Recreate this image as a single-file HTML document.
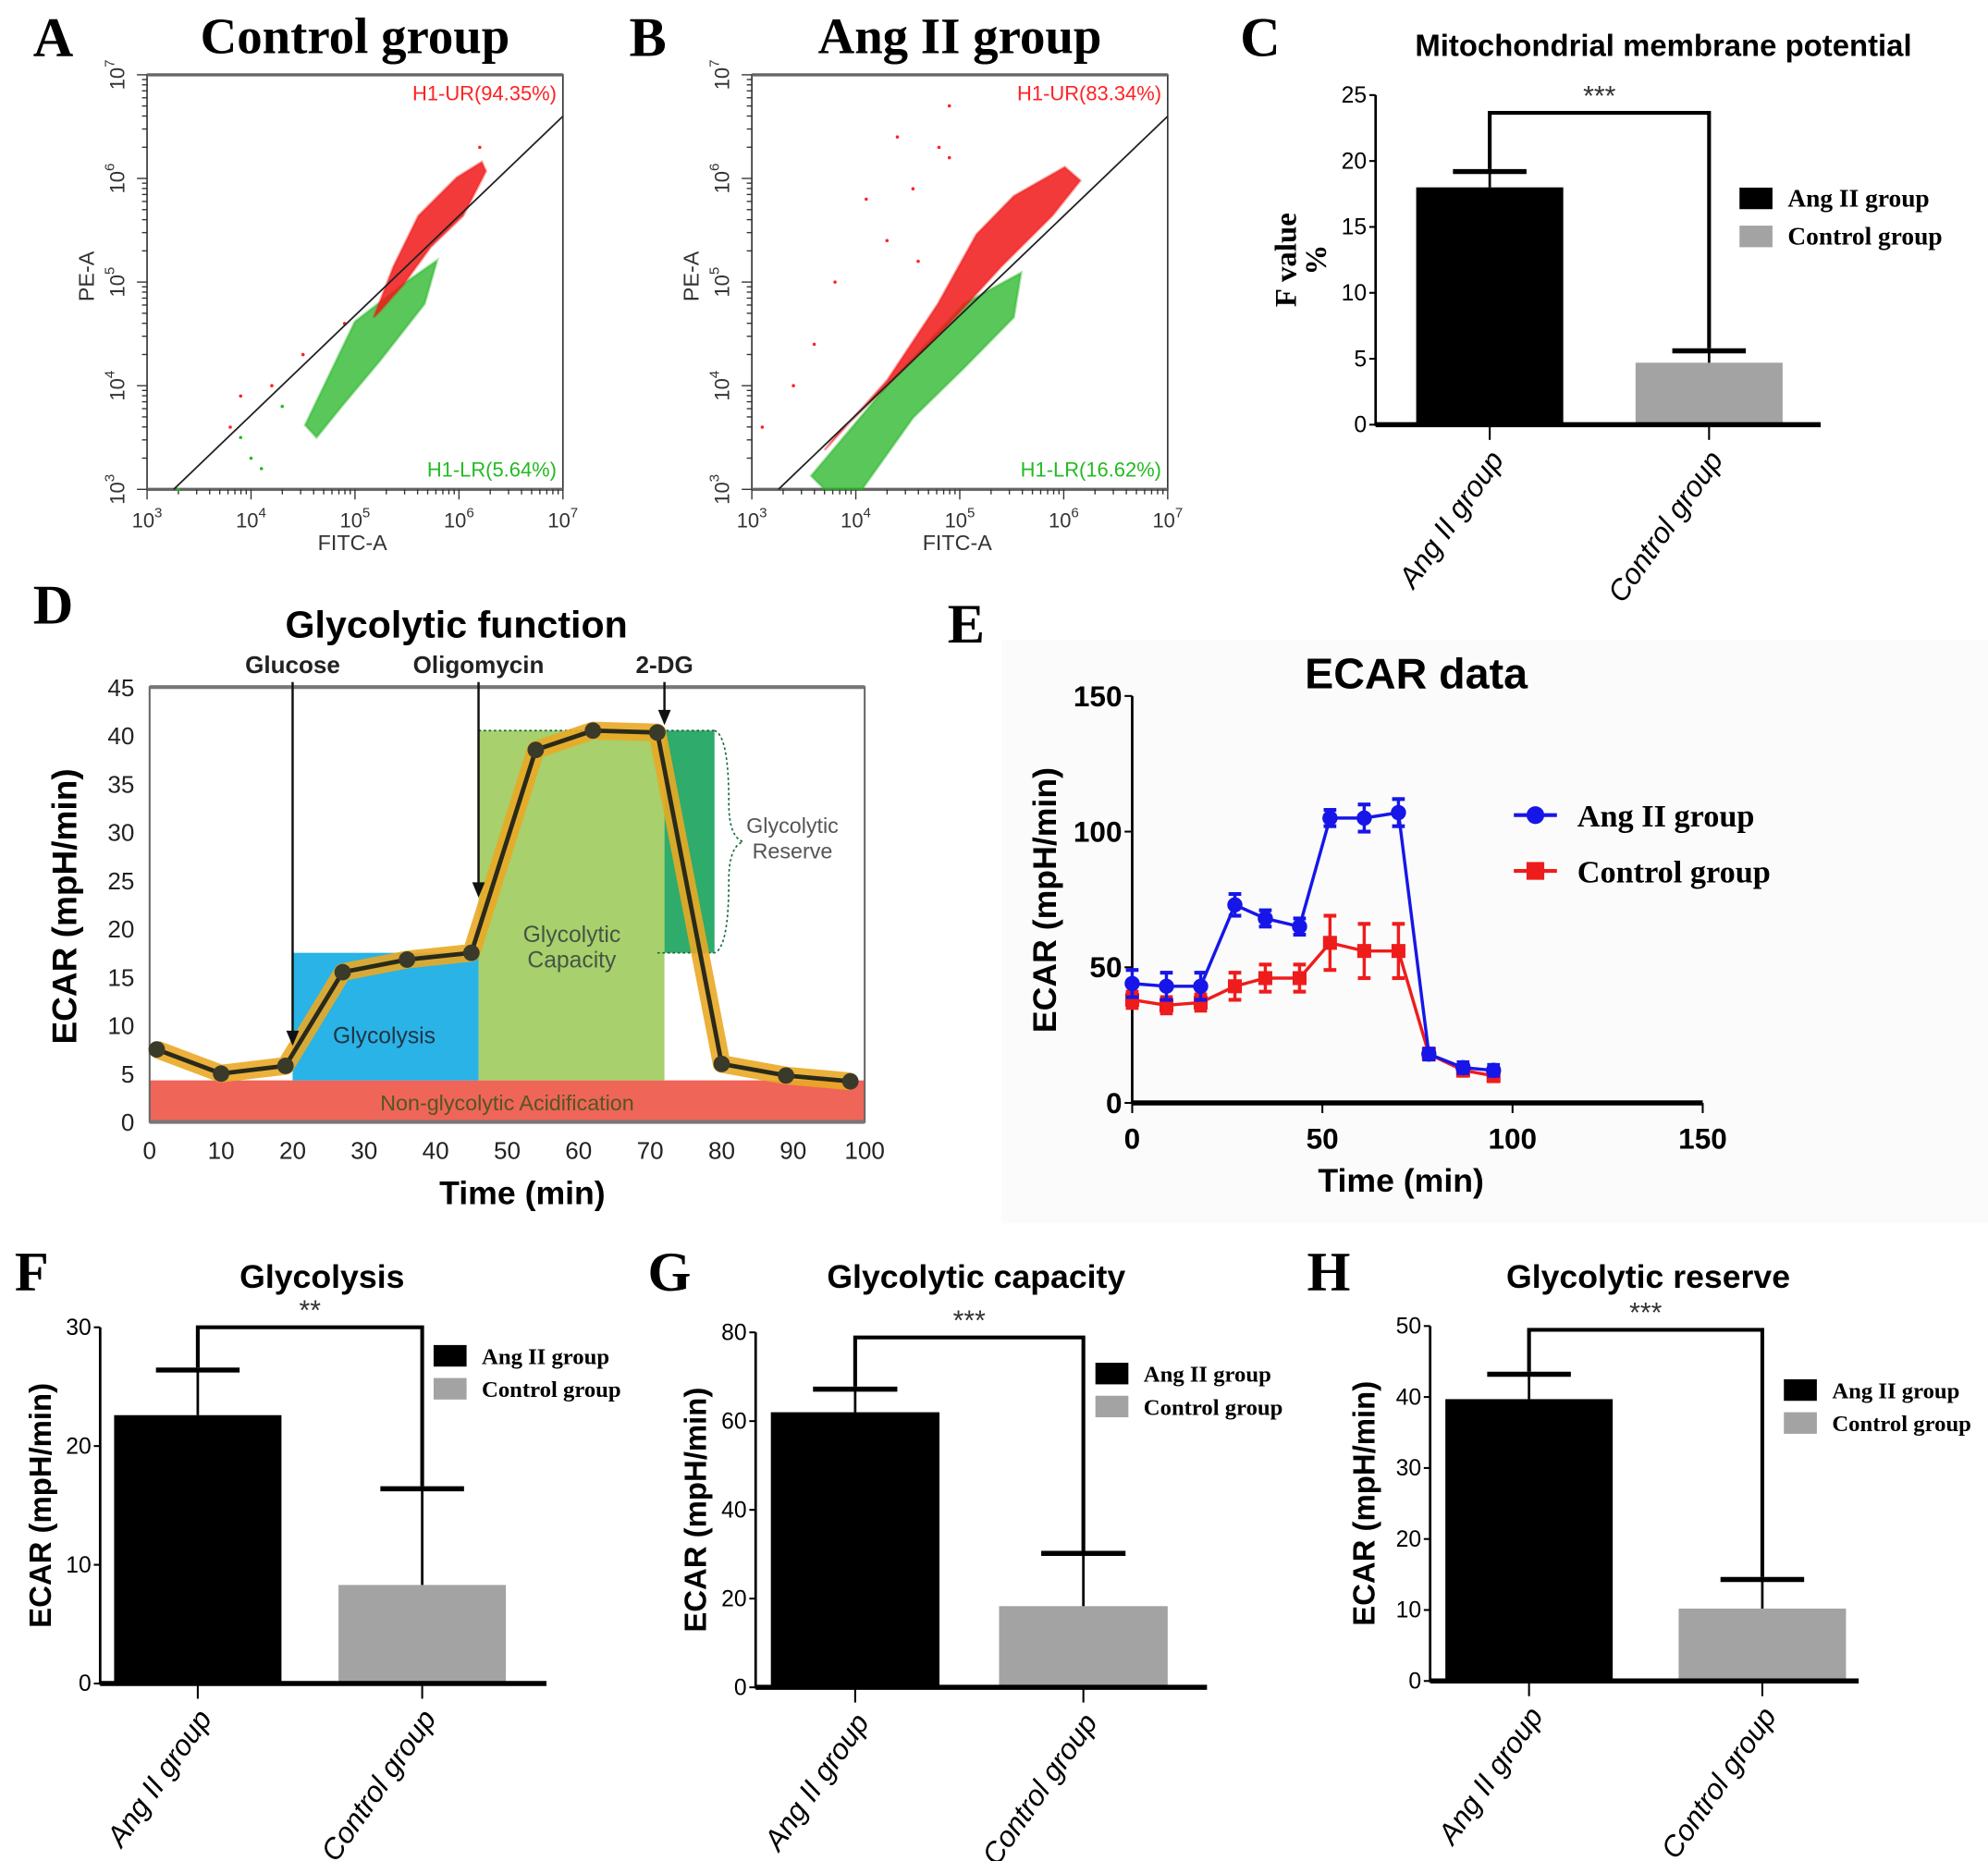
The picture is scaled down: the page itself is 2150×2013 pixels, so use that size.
<!DOCTYPE html>
<html><head><meta charset="utf-8"><style>
html,body{margin:0;padding:0;background:#fff}
svg{display:block}
text{font-family:"Liberation Sans",sans-serif}
.serif{font-family:"Liberation Serif",serif;font-weight:bold}
.narrow{font-family:"Liberation Sans Narrow","Liberation Sans",sans-serif}
</style></head><body>
<svg id="fig" xmlns="http://www.w3.org/2000/svg" width="2150" height="2013" viewBox="0 0 1568 1468" preserveAspectRatio="none"></svg>
<script>
// ---------- data ----------
const aRedCloud=[[5.18,4.66],[5.37,5.15],[5.61,5.64],[5.98,6.01],[6.22,6.16],[6.26,6.07],[6.04,5.64],[5.73,5.34],[5.46,4.97],[5.24,4.72]];
const aGreenCloud=[[4.52,3.62],[5.00,4.62],[5.49,5.00],[5.79,5.21],[5.67,4.79],[5.24,4.24],[4.88,3.81],[4.63,3.50]];
const aRedDots=[[3.9,3.9],[4.2,4.0],[3.8,3.6],[4.5,4.3],[4.9,4.6],[6.2,6.3]];
const aGreenDots=[[3.3,3.0],[3.9,3.5],[4.0,3.3],[4.3,3.8],[4.1,3.2]];
const bRedCloud=[[3.70,3.38],[4.30,4.05],[4.79,4.79],[5.16,5.46],[5.52,5.83],[6.01,6.11],[6.16,5.98],[5.89,5.64],[5.40,5.15],[4.79,4.48],[4.30,4.00],[3.82,3.53]];
const bGreenCloud=[[3.57,3.13],[4.30,4.00],[5.04,4.79],[5.59,5.09],[5.52,4.66],[5.04,4.17],[4.55,3.69],[4.06,3.00],[3.70,3.00]];
const bRedDots=[[4.9,6.7],[4.4,6.4],[4.8,6.3],[4.1,5.8],[4.3,5.4],[4.6,5.2],[3.6,4.4],[3.4,4.0],[3.1,3.6],[4.9,6.2],[3.8,5.0],[4.55,5.9]];
const percentA=["H1-UR(94.35%)","H1-LR(5.64%)"];
const percentB=["H1-UR(83.34%)","H1-LR(16.62%)"];
// C
const cCats=["Ang II group","Control group"];
const cVals=[18.0,4.7];
const cErr=[1.2,0.9];
// D
const dTimes=[1,10,19,27,36,45,54,62,71,80,89,98];
const dVals=[7.5,5,5.8,15.5,16.8,17.5,38.5,40.5,40.3,6,4.8,4.2];
const dTicksX=[0,10,20,30,40,50,60,70,80,90,100];
const dTicksY=[0,5,10,15,20,25,30,35,40,45];
// E
const eTimes=[0,9,18,27,35,44,52,61,70,78,87,95];
const eAng=[44,43,43,73,68,65,105,105,107,18,13,12];
const eAngErr=[5,5,5,4,3,3,3,5,5,2,2,2];
const eCtl=[38,36,37,43,46,46,59,56,56,18,12,10];
const eCtlErr=[3,3,3,5,5,5,10,10,10,2,2,2];
const eTicks=[0,50,100,150];
// F G H
const fVals=[22.6,8.3]; const fErr=[3.8,8.1]; const fTicks=[0,10,20,30];
const gVals=[62,18.3]; const gErr=[5.2,11.9]; const gTicks=[0,20,40,60,80];
const hVals=[39.7,10.2]; const hErr=[3.5,4.1]; const hTicks=[0,10,20,30,40,50];

// ---------- helpers ----------
const svg=document.getElementById('fig');
const NS="http://www.w3.org/2000/svg";
function el(tag,attrs,parent,txt){const e=document.createElementNS(NS,tag);for(const k in attrs)e.setAttribute(k,attrs[k]);if(txt!==undefined)e.textContent=txt;(parent||svg).appendChild(e);return e;}
function grp(name){const g=el('g',{});return g;}
function txt(p,x,y,s,size,opt){opt=opt||{};const a={x:x,y:y,'font-size':size,'text-anchor':opt.anchor||'middle',fill:opt.fill||'#000'};if(opt.cls)a['class']=opt.cls;if(opt.weight)a['font-weight']=opt.weight;if(opt.style)a['font-style']=opt.style;if(opt.rot!==undefined)a.transform='rotate('+opt.rot+' '+x+' '+y+')';const t=el('text',a,p,s);return t;}
function line(p,x1,y1,x2,y2,w,c,extra){const a={x1:x1,y1:y1,x2:x2,y2:y2,stroke:c||'#000','stroke-width':w||1.5};Object.assign(a,extra||{});return el('line',a,p);}

// ---------- panel letters ----------
[["A",42,44],["B",511,44],["C",994,44],["D",42,492],["E",762,507],["F",25,1018],["G",528,1018],["H",1048,1018]].forEach(l=>{const t=txt(svg,l[1],l[2],l[0],44,{cls:'serif'});});

// ---------- flow panels ----------
function flow(x0,title,red,green,rdots,gdots,pct,name){
  const g=grp(name);
  const X0=x0,X1=x0+328,Y0=59,Y1=386;
  const sx=v=>X0+(v-3)/4*(X1-X0), sy=v=>Y1-(v-3)/4*(Y1-Y0);
  txt(g,(X0+X1)/2,42,title,40,{cls:'serif',name:'panel-title'});
  el('rect',{x:X0,y:Y0,width:X1-X0,height:Y1-Y0,fill:'none',stroke:'#333','stroke-width':1.2},g);
  line(g,X0,Y0,X1,Y0,2.5,'#666');line(g,X0,Y1,X1,Y1,2.5,'#666');
  for(let d=3;d<7;d++)for(let m=1;m<10;m++){const v=d+Math.log10(m);const len=m==1?8:4;
    line(g,sx(v),Y1,sx(v),Y1+len,1,'#333');line(g,X0,sy(v),X0-len,sy(v),1,'#333');}
  line(g,sx(7),Y1,sx(7),Y1+8,1,'#333');line(g,X0,sy(7),X0-8,sy(7),1,'#333');
  for(let d=3;d<=7;d++){
    const t=el('text',{x:sx(d),y:Y1+30,'font-size':16,'text-anchor':'middle',fill:'#333'},g);
    el('tspan',{},t,'10');el('tspan',{dy:-8,'font-size':11},t,String(d));
    const yy=sy(d),xx=X0-18;
    const t2=el('text',{x:xx,y:yy,'font-size':16,'text-anchor':'middle',fill:'#333',transform:'rotate(-90 '+xx+' '+yy+')'},g);
    el('tspan',{},t2,'10');el('tspan',{dy:-8,'font-size':11},t2,String(d));
  }
  txt(g,(X0+X1)/2-2,Y1+48,'FITC-A',17,{fill:'#333',name:'x-axis-title'});
  txt(g,X0-42,218,'PE-A',17,{fill:'#333',rot:-90,name:'y-axis-title'});
  const pg=el('polygon',{points:green.map(p=>sx(p[0])+','+sy(p[1])).join(' '),fill:'#22b422','fill-opacity':0.75,'stroke':'#22b422','stroke-width':2,'stroke-opacity':0.4},g);
  const pr=el('polygon',{points:red.map(p=>sx(p[0])+','+sy(p[1])).join(' '),fill:'#f01818','fill-opacity':0.85,'stroke':'#f01818','stroke-width':2,'stroke-opacity':0.4},g);
  rdots.forEach(p=>{const c=el('circle',{cx:sx(p[0]),cy:sy(p[1]),r:1.3,fill:'#f22'},g);});
  gdots.forEach(p=>{const c=el('circle',{cx:sx(p[0]),cy:sy(p[1]),r:1.3,fill:'#2b2'},g);});
  line(g,sx(3.256),Y1,X1,sy(6.6),1.3,'#222');
  txt(g,X1-5,79,pct[0],16,{anchor:'end',fill:'#f22',name:'ur-percent'});
  txt(g,X1-5,376,pct[1],16,{anchor:'end',fill:'#2b2',name:'lr-percent'});
}
flow(116,'Control group',aRedCloud,aGreenCloud,aRedDots,aGreenDots,percentA,'panel-a-flow-control');
flow(593,'Ang II group',bRedCloud,bGreenCloud,bRedDots,[],percentB,'panel-b-flow-angii');

// ---------- bar panels ----------
function bars(cfg){
  const g=grp(cfg.name);
  const ax=cfg.ax,yT=cfg.yTop,yB=cfg.yBot,max=cfg.ticks[cfg.ticks.length-1];
  const sy=v=>yB-v/max*(yB-yT);
  txt(g,cfg.titleX,cfg.titleY,cfg.title,cfg.titleSize||26,{cls:'narrow',weight:'bold',name:'chart-title'});
  line(g,ax,yT,ax,yB+1,2);
  cfg.ticks.forEach(t=>{line(g,ax-5,sy(t),ax,sy(t),1.5);txt(g,ax-7,sy(t)+6,String(t),cfg.tickSize||18,{anchor:'end',cls:'narrow',name:'y-tick-label'});});
  const cols=['#000','#a3a3a3'],tops=[];
  cfg.vals.forEach((v,i)=>{
    const bx=cfg.barX[i],w=cfg.barW,cx=bx+w/2;
    const r=el('rect',{x:bx,y:sy(v),width:w,height:yB-sy(v),fill:cols[i]},g);
    const top=sy(v+cfg.err[i]);tops.push(top);
    line(g,cx,sy(v),cx,top,2);line(g,cx-w/4,top,cx+w/4,top,4);
    line(g,cx,yB,cx,yB+12,1.5);
    const t=txt(g,cx-2,yB+18,cfg.cats?cfg.cats[i]:['Ang II group','Control group'][i],cfg.catSize||23,{anchor:'end',style:'italic',rot:-55,name:'x-category-label'});
    t.setAttribute('dominant-baseline','hanging');
  });
  line(g,ax,yB,cfg.axEnd,yB,4);
  const c0=cfg.barX[0]+cfg.barW/2,c1=cfg.barX[1]+cfg.barW/2,by=cfg.brY;
  const br=el('polyline',{points:c0+','+(tops[0]-2)+' '+c0+','+by+' '+c1+','+by+' '+c1+','+(tops[1]-2),fill:'none',stroke:'#000','stroke-width':3},g);
  txt(g,(c0+c1)/2,by-6,cfg.stars,22,{fill:'#333',name:'significance-stars'});
  cfg.ylab.forEach((s,k)=>txt(g,cfg.ylabX+k*24,(yT+yB)/2,s,cfg.ylabSize||24,{rot:-90,weight:'bold',cls:cfg.ylabCls,name:'y-axis-title'}));
  [['Ang II group','#000'],['Control group','#a3a3a3']].forEach((l,i)=>{
    const ly=cfg.legY+i*cfg.legGap;
    const r=el('rect',{x:cfg.legX,y:ly-9,width:26,height:17,fill:l[1]},g);
    txt(g,cfg.legX+38,ly+6,l[0],cfg.legSize||19,{anchor:'start',cls:'serif',name:'legend-entry'});
  });
}
bars({name:'panel-c-mmp',ax:1085,yTop:75,yBot:335,axEnd:1436,ticks:[0,5,10,15,20,25],vals:cVals,err:cErr,cats:cCats,barX:[1117,1290],barW:116,brY:89,stars:'***',title:'Mitochondrial membrane potential',titleX:1312,titleY:44,titleSize:24,ylab:['F value','%'],ylabX:1022,ylabCls:'serif',legX:1372,legY:157,legGap:30,legSize:20});
bars({name:'panel-f-glycolysis',ax:79,yTop:1047,yBot:1328,axEnd:431,ticks:fTicks,vals:fVals,err:fErr,barX:[90,267],barW:132,brY:1047,stars:'**',title:'Glycolysis',titleX:254,titleY:1016,ylab:['ECAR (mpH/min)'],ylabX:40,legX:342,legY:1070,legGap:26,legSize:18});
bars({name:'panel-g-capacity',ax:596,yTop:1051,yBot:1331,axEnd:952,ticks:gTicks,vals:gVals,err:gErr,barX:[608,788],barW:133,brY:1055,stars:'***',title:'Glycolytic capacity',titleX:770,titleY:1016,ylab:['ECAR (mpH/min)'],ylabX:557,legX:864,legY:1084,legGap:26,legSize:18});
bars({name:'panel-h-reserve',ax:1128,yTop:1046,yBot:1326,axEnd:1466,ticks:hTicks,vals:hVals,err:hErr,barX:[1140,1324],barW:132,brY:1049,stars:'***',title:'Glycolytic reserve',titleX:1300,titleY:1016,ylab:['ECAR (mpH/min)'],ylabX:1084,legX:1407,legY:1097,legGap:26,legSize:18});

// ---------- panel D ----------
(function(){
  const g=grp('panel-d-glycolytic-function');
  const X0=118,X1=682,Y0=542,Y1=885;
  const sx=v=>X0+v/100*(X1-X0), sy=v=>Y1-v/45*(Y1-Y0);
  txt(g,360,503,'Glycolytic function',30,{cls:'narrow',weight:'bold',name:'chart-title'});
  const reg=(x0,x1,y0,y1,c,n)=>{const r=el('rect',{x:sx(x0),y:sy(y1),width:sx(x1)-sx(x0),height:sy(y0)-sy(y1),fill:c},g);};
  reg(0,100,0,4.3,'#ef6558','non-glycolytic-region');
  reg(20,46,4.3,17.5,'#29b3e6','glycolysis-region');
  reg(46,72,4.3,40.5,'#a8d06c','capacity-region');
  reg(72,79,17.5,40.5,'#2fab6c','reserve-region');
  line(g,sx(46),sy(40.5),sx(79),sy(40.5),1.2,'#1a6a3a',{'stroke-dasharray':'2 2'});
  line(g,sx(71),sy(17.5),sx(79),sy(17.5),1.2,'#1a6a3a',{'stroke-dasharray':'2 2'});
  el('path',{d:`M${sx(79)} ${sy(40.5)} Q${sx(81)} ${sy(40)} ${sx(81)} ${sy(33)} Q${sx(81)} ${sy(29.5)} ${sx(83)} ${sy(29)} Q${sx(81)} ${sy(28.5)} ${sx(81)} ${sy(25)} Q${sx(81)} ${sy(18)} ${sx(79)} ${sy(17.5)}`,fill:'none',stroke:'#1a6a3a','stroke-width':1.2,'stroke-dasharray':'2 2'},g);
  el('rect',{x:X0,y:Y0,width:X1-X0,height:Y1-Y0,fill:'none',stroke:'#666','stroke-width':1.5},g);
  line(g,X0,Y0,X1,Y0,3,'#777');line(g,X0,Y1,X1,Y1,3,'#777');
  const pts=dTimes.map((t,i)=>sx(t)+','+sy(dVals[i])).join(' ');
  el('polyline',{points:pts,fill:'none',stroke:'#e9a825','stroke-width':14,'stroke-linejoin':'round','stroke-opacity':0.9},g);
  const pl=el('polyline',{points:pts,fill:'none',stroke:'#2a2a1a','stroke-width':3.5},g);
  dTimes.forEach((t,i)=>{const c=el('circle',{cx:sx(t),cy:sy(dVals[i]),r:6.5,fill:'#3a3a2a'},g);});
  dTicksX.forEach(t=>txt(g,sx(t),Y1+29,String(t),19,{cls:'narrow',fill:'#222',name:'x-tick-label'}));
  dTicksY.forEach(t=>txt(g,X0-12,sy(t)+7,String(t),19,{anchor:'end',cls:'narrow',fill:'#222',name:'y-tick-label'}));
  txt(g,412,950,'Time (min)',26,{weight:'bold',cls:'narrow',name:'x-axis-title'});
  txt(g,60,715,'ECAR (mpH/min)',27,{weight:'bold',rot:-90,name:'y-axis-title'});
  txt(g,400,876,'Non-glycolytic Acidification',17,{cls:'narrow',fill:'#552',name:'region-label'});
  txt(g,303,823,'Glycolysis',18,{cls:'narrow',fill:'#234',name:'region-label'});
  txt(g,451,743,'Glycolytic',18,{cls:'narrow',fill:'#454',name:'region-label'});
  txt(g,451,763,'Capacity',18,{cls:'narrow',fill:'#454',name:'region-label'});
  txt(g,625,657,'Glycolytic',17,{cls:'narrow',fill:'#555',name:'region-label'});
  txt(g,625,677,'Reserve',17,{cls:'narrow',fill:'#555',name:'region-label'});
  [['Glucose',20,532,825],['Oligomycin',46,532,708],['2-DG',72,532,572]].forEach(a=>{
    txt(g,sx(a[1]),531,a[0],19,{weight:'bold',cls:'narrow',fill:'#222',name:'injection-label'});
    line(g,sx(a[1]),538,sx(a[1]),a[3]-10,1.8,'#111');
    const p=el('polygon',{points:`${sx(a[1])-5},${a[3]-12} ${sx(a[1])+5},${a[3]-12} ${sx(a[1])},${a[3]}`,fill:'#111'},g);
  });
})();

// ---------- panel E ----------
(function(){
  const g=grp('panel-e-ecar-data');
  el('rect',{x:790,y:505,width:778,height:460,fill:'#fbfbfb'},g);
  const X0=893,X1=1343,Y0=549,Y1=870;
  const sx=v=>X0+v/150*(X1-X0), sy=v=>Y1-v/150*(Y1-Y0);
  txt(g,1117,543,'ECAR data',34,{cls:'narrow',weight:'bold',name:'chart-title'});
  line(g,X0,Y0,X0,Y1,2);line(g,X0,Y1,X1,Y1,4);
  eTicks.forEach(t=>{line(g,X0-6,sy(t),X0,sy(t),1.5);line(g,sx(t),Y1,sx(t),Y1+8,1.5);
    txt(g,X0-8,sy(t)+8,String(t),23,{anchor:'end',weight:'bold',cls:'narrow',name:'y-tick-label'});
    txt(g,sx(t),Y1+36,String(t),23,{weight:'bold',cls:'narrow',name:'x-tick-label'});});
  txt(g,1105,940,'Time (min)',26,{weight:'bold',cls:'narrow',name:'x-axis-title'});
  txt(g,833,710,'ECAR (mpH/min)',26,{weight:'bold',rot:-90,name:'y-axis-title'});
  function series(vals,err,col,marker,nm){
    const pl=el('polyline',{points:eTimes.map((t,i)=>sx(t)+','+sy(vals[i])).join(' '),fill:'none',stroke:col,'stroke-width':2.5},g);
    eTimes.forEach((t,i)=>{const x=sx(t),y=sy(vals[i]),t1=sy(vals[i]+err[i]),b1=sy(vals[i]-err[i]);
      line(g,x,t1,x,b1,2.5,col);line(g,x-5,t1,x+5,t1,3,col);line(g,x-5,b1,x+5,b1,3,col);
      const m=marker=='c'?el('circle',{cx:x,cy:y,r:6,fill:col},g):el('rect',{x:x-5.5,y:y-5.5,width:11,height:11,fill:col},g);
      });
  }
  series(eCtl,eCtlErr,'#ef1c1c','s','control');
  series(eAng,eAngErr,'#1616e8','c','angii');
  [['Ang II group','#1616e8','c',643],['Control group','#ef1c1c','s',687]].forEach(l=>{
    line(g,1194,l[3],1228,l[3],3,l[1]);
    const m=l[2]=='c'?el('circle',{cx:1211,cy:l[3],r:7,fill:l[1]},g):el('rect',{x:1204,y:l[3]-7,width:14,height:14,fill:l[1]},g);
    
    txt(g,1244,l[3]+9,l[0],25,{anchor:'start',cls:'serif',name:'legend-entry'});
  });
})();
</script>
</body></html>
